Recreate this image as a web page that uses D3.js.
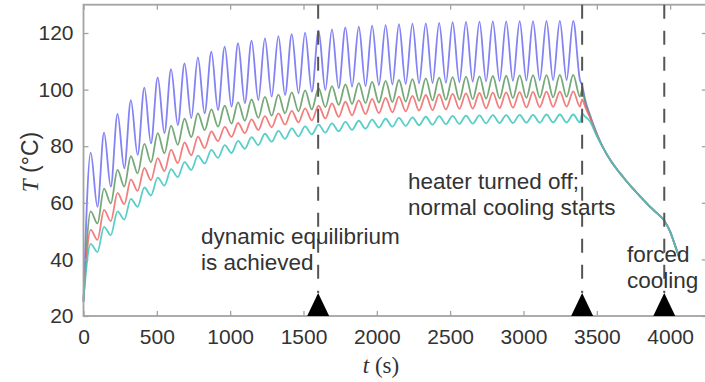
<!DOCTYPE html>
<html>
<head>
<meta charset="utf-8">
<script src="https://cdn.jsdelivr.net/npm/d3@7"></script>
<style>
  html, body { margin: 0; padding: 0; background: #fff; }
  svg { display: block; }
  text { font-family: "Liberation Sans", Arial, sans-serif; fill: #333; }
</style>
</head>
<body>
<svg id="chart" width="705" height="382"></svg>
<script>
// times (s) of the maxima and minima of each heating cycle
const peakTimes = [49, 140, 232, 323, 415, 506, 597, 689, 780, 872, 963, 1054, 1146, 1237, 1329, 1420, 1511, 1603, 1694,
  1786, 1877, 1968, 2060, 2151, 2243, 2334, 2425, 2517, 2608, 2700, 2791, 2882, 2974, 3065, 3157, 3248, 3339];
const troughTimes = [95, 186, 278, 369, 460, 552, 643, 735, 826, 917, 1009, 1100, 1192, 1283, 1374, 1466, 1557, 1649, 1740,
  1831, 1923, 2014, 2106, 2197, 2288, 2380, 2471, 2563, 2654, 2745, 2837, 2928, 3020, 3111, 3202, 3294, 3385];

const seriesNames = ["blue", "green", "red", "cyan"];
const seriesColors = ["#6c6cf2", "#5e9a62", "#f06868", "#3cc6c0"];
const startTemps = [25, 25, 26, 26];

const bluePeaks = [77.7, 84.8, 91.4, 96.3, 100.7, 104.3, 107.2, 109.3, 111.4, 113.4, 115.2, 116.4, 117.3, 118.1, 118.9, 119.6, 120.1, 120.8, 121.3,
  122.0, 122.2, 122.6, 122.8, 123.1, 123.3, 123.4, 123.6, 123.8, 123.9, 124.0, 124.1, 124.1, 124.2, 124.2, 124.3, 124.3, 124.3];
const blueTroughs = [58.6, 65.7, 72.2, 76.9, 81.0, 84.6, 87.5, 89.9, 91.6, 92.8, 94.0, 95.2, 96.3, 97.5, 98.1, 98.7, 99.3, 99.9, 100.5,
  101.0, 101.2, 101.6, 101.8, 102.0, 102.2, 102.3, 102.4, 102.6, 102.8, 102.9, 103.0, 103.1, 103.2, 103.3, 103.3, 103.4, 103.4];
const greenPeaks = [57.0, 65.0, 71.6, 76.5, 80.8, 84.6, 87.3, 89.7, 91.6, 93.0, 94.3, 95.5, 96.5, 97.4, 98.2, 99.0, 99.7, 100.5, 101.2,
  101.8, 102.3, 102.7, 103.1, 103.4, 103.7, 104.0, 104.2, 104.4, 104.6, 104.7, 104.8, 104.9, 105.0, 105.1, 105.1, 105.2, 105.2];
const greenTroughs = [52.7, 59.8, 65.7, 70.4, 74.3, 77.5, 80.5, 83.2, 85.7, 86.9, 88.0, 89.0, 90.0, 90.8, 91.6, 92.3, 93.0, 93.8, 94.6,
  94.9, 95.2, 95.4, 95.6, 95.8, 96.0, 96.2, 96.4, 96.5, 96.6, 96.8, 96.9, 97.0, 97.1, 97.2, 97.3, 97.4, 97.5];
const redPeaks = [50.4, 57.5, 63.5, 68.3, 72.3, 75.8, 78.8, 81.3, 83.4, 85.2, 86.8, 88.2, 89.5, 90.6, 91.6, 92.5, 93.4, 94.3, 95.1,
  95.7, 96.2, 96.7, 97.1, 97.5, 97.8, 98.1, 98.3, 98.5, 98.7, 98.8, 98.9, 99.0, 99.1, 99.2, 99.3, 99.3, 99.4];
const redTroughs = [46.9, 53.5, 59.5, 64.2, 68.0, 71.2, 74.0, 76.8, 79.3, 81.8, 83.3, 84.6, 85.7, 86.7, 87.6, 88.4, 89.1, 89.8, 90.4,
  90.9, 91.3, 91.7, 92.0, 92.3, 92.6, 92.8, 93.0, 93.2, 93.3, 93.4, 93.5, 93.6, 93.7, 93.8, 93.9, 94.0, 94.0];
const cyanPeaks = [45.5, 51.5, 57.0, 61.4, 65.4, 68.9, 71.9, 74.4, 76.7, 78.7, 80.4, 81.9, 83.2, 84.4, 85.4, 86.3, 87.0, 87.6, 88.1,
  88.6, 89.0, 89.4, 89.7, 90.0, 90.2, 90.4, 90.6, 90.7, 90.8, 90.9, 91.0, 91.0, 91.1, 91.1, 91.2, 91.2, 91.2];
const cyanTroughs = [42.6, 48.6, 54.1, 58.6, 62.6, 66.1, 69.1, 71.6, 73.9, 75.9, 77.6, 79.1, 80.4, 81.6, 82.6, 83.5, 84.2, 84.8, 85.3,
  85.8, 86.2, 86.6, 86.9, 87.2, 87.4, 87.6, 87.8, 87.9, 88.0, 88.1, 88.2, 88.2, 88.3, 88.3, 88.4, 88.4, 88.4];

// first part of the cooling, where the four curves still differ
const earlyCoolTimes = [3400, 3420, 3450, 3500];
const earlyCool = [
  [101.5, 96.5, 91.5, 84.5],
  [100.0, 95.5, 91.0, 84.2],
  [96.5, 94.0, 90.5, 84.0],
  [91.5, 90.5, 89.0, 83.6]
];
// common cooling curve (normal cooling, then forced cooling from 3960 s)
const coolTimes = [3550, 3600, 3650, 3700, 3750, 3800, 3850, 3900, 3960, 4000, 4030, 4060];
const coolTemps = [78.8, 74.5, 71.0, 67.8, 64.8, 62.0, 59.3, 56.8, 53.7, 49.8, 45.5, 41.0];

const eventTimes = [1600, 3400, 3960];
const xTicks = [0, 500, 1000, 1500, 2000, 2500, 3000, 3500, 4000];
const yTicks = [20, 40, 60, 80, 100, 120];

const peaks = [bluePeaks, greenPeaks, redPeaks, cyanPeaks];
const troughs = [blueTroughs, greenTroughs, redTroughs, cyanTroughs];

const svg = d3.select("#chart");
const mLeft = 83.5, mRight = 706.8, mTop = 4.7, mBottom = 316;

const x = d3.scaleLinear().domain([0, 4250]).range([mLeft, mRight]);
const y = d3.scaleLinear().domain([20, 130]).range([mBottom, mTop]);

// soft look of the original figure
svg.append("defs").append("filter").attr("id", "soft")
  .append("feGaussianBlur").attr("stdDeviation", 0.45);

// series
const line = d3.line().x(d => x(d[0])).y(d => y(d[1])).curve(d3.curveMonotoneX);
const plot = svg.append("g").attr("filter", "url(#soft)");
seriesNames.forEach((name, i) => {
  const pts = [[0, startTemps[i]]];
  peakTimes.forEach((t, k) => {
    pts.push([t, peaks[i][k]]);
    pts.push([troughTimes[k], troughs[i][k]]);
  });
  earlyCoolTimes.forEach((t, k) => pts.push([t, earlyCool[i][k]]));
  coolTimes.forEach((t, k) => pts.push([t, coolTemps[k]]));
  plot.append("path")
    .datum(pts)
    .attr("class", "series " + name)
    .attr("fill", "none")
    .attr("stroke", seriesColors[i])
    .attr("stroke-width", 1.8)
    .attr("stroke-opacity", 0.85)
    .attr("d", line);
});

// frame and inward ticks
const frameColor = "#a3a3a3";
svg.append("rect")
  .attr("x", mLeft).attr("y", mTop)
  .attr("width", mRight - mLeft).attr("height", mBottom - mTop)
  .attr("fill", "none").attr("stroke", frameColor).attr("stroke-width", 1.8);

const styleAxis = g => {
  g.select(".domain").remove();
  g.selectAll(".tick line").attr("stroke", frameColor).attr("stroke-width", 1.3);
  g.selectAll(".tick text").attr("fill", "#333").style("font-size", "21px")
    .style("font-family", '"Liberation Sans", Arial, sans-serif');
};

svg.append("g").attr("transform", `translate(0,${mBottom})`)
  .call(d3.axisBottom(x).tickValues(xTicks).tickFormat(d3.format("d")).tickSize(-5).tickPadding(13))
  .call(styleAxis);
svg.append("g").attr("transform", `translate(0,${mTop})`)
  .call(d3.axisTop(x).tickValues(xTicks).tickSize(-5).tickFormat(""))
  .call(styleAxis);
svg.append("g").attr("transform", `translate(${mLeft},0)`)
  .call(d3.axisLeft(y).tickValues(yTicks).tickSize(-5).tickPadding(10))
  .call(styleAxis);
svg.append("g").attr("transform", `translate(${mRight},0)`)
  .call(d3.axisRight(y).tickValues(yTicks).tickSize(-5).tickFormat(""))
  .call(styleAxis);

// event markers
const triH = 23, triW = 22;
eventTimes.forEach(t => {
  svg.append("line")
    .attr("x1", x(t)).attr("x2", x(t))
    .attr("y1", mTop).attr("y2", mBottom - triH)
    .attr("stroke", "#555").attr("stroke-width", 2)
    .attr("stroke-dasharray", "14,12");
  svg.append("path")
    .attr("d", `M${x(t) - triW / 2},${mBottom}L${x(t)},${mBottom - triH}L${x(t) + triW / 2},${mBottom}Z`)
    .attr("fill", "#000");
});

// annotations
const note = (px, py, lines) => {
  const t = svg.append("text").attr("x", px).attr("y", py).style("font-size", "22.5px");
  lines.forEach((s, i) => t.append("tspan").attr("x", px).attr("dy", i ? 26 : 0).text(s));
};
note(201, 244, ["dynamic equilibrium", "is achieved"]);
note(408, 189, ["heater turned off;", "normal cooling starts"]);
note(627, 262, ["forced", "cooling"]);

// axis titles
const xt = svg.append("text").attr("x", 381).attr("y", 373).attr("text-anchor", "middle")
  .style("font-size", "23px").style("font-family", '"Liberation Serif", serif');
xt.append("tspan").style("font-style", "italic").text("t");
xt.append("tspan").text(" (s)");

const yt = svg.append("text").attr("transform", "translate(38,162) rotate(-90)").attr("text-anchor", "middle")
  .style("font-size", "23px");
yt.append("tspan").style("font-style", "italic").style("font-family", '"Liberation Serif", serif').text("T");
yt.append("tspan").text(" (°C)");
</script>
</body>
</html>
